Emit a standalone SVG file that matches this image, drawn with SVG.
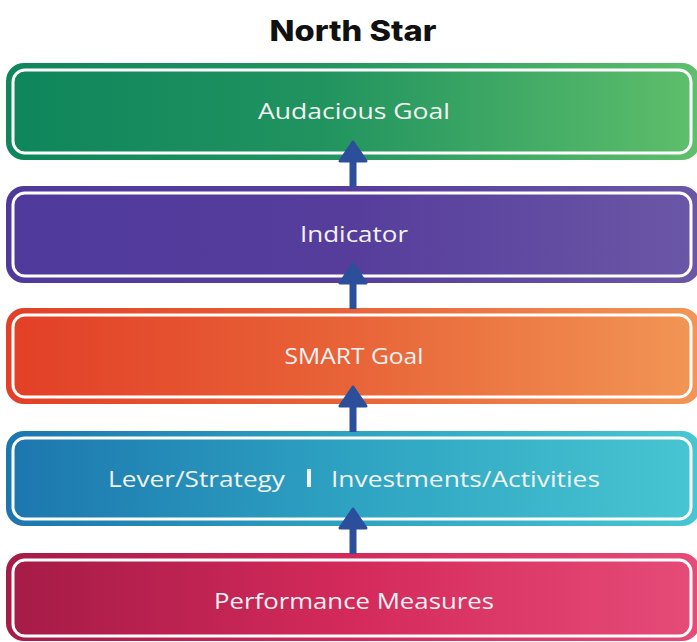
<svg xmlns="http://www.w3.org/2000/svg" width="697" height="642" viewBox="0 0 697 642">
<defs>
<linearGradient id="gGreen" x1="0" y1="0" x2="1" y2="0"><stop offset="0" stop-color="#0f855c"/><stop offset="0.45" stop-color="#20935f"/><stop offset="1" stop-color="#5fbf6b"/></linearGradient>
<linearGradient id="gPurple" x1="0" y1="0" x2="1" y2="0"><stop offset="0" stop-color="#4f3a9c"/><stop offset="0.5" stop-color="#563d9c"/><stop offset="1" stop-color="#6b57a6"/></linearGradient>
<linearGradient id="gOrange" x1="0" y1="0" x2="1" y2="0"><stop offset="0" stop-color="#e23f27"/><stop offset="0.5" stop-color="#e86438"/><stop offset="1" stop-color="#f29655"/></linearGradient>
<linearGradient id="gBlue" x1="0" y1="0" x2="1" y2="0"><stop offset="0" stop-color="#1c76ae"/><stop offset="0.5" stop-color="#2ea3c2"/><stop offset="1" stop-color="#48c6d2"/></linearGradient>
<linearGradient id="gRed" x1="0" y1="0" x2="1" y2="0"><stop offset="0" stop-color="#a51b47"/><stop offset="0.5" stop-color="#d42a5b"/><stop offset="1" stop-color="#e64c79"/></linearGradient>
</defs>
<style>
.title{font-family:"Inter","Liberation Sans",sans-serif;font-weight:800;font-size:28px;fill:#111111}
.lbl{font-family:"Open Sans","Liberation Sans",sans-serif;font-weight:400;font-size:22px;fill:#f2f2f2}
.inner{fill:none;stroke:#ffffff;stroke-width:3}
.arrow{fill:#2c4f9b;stroke:#2c4f9b;stroke-width:3;stroke-linejoin:round}
.shaft{stroke:#2c4f9b;stroke-width:7}
</style>
<rect width="697" height="642" fill="#ffffff"/>
<text class="title" x="353" y="41" text-anchor="middle" textLength="167" lengthAdjust="spacingAndGlyphs">North Star</text>

<g id="audacious-goal">
<rect x="6" y="63" width="694" height="97" rx="18" fill="url(#gGreen)"/>
<rect class="inner" x="13" y="70" width="678" height="83" rx="12"/>
<text class="lbl" x="354" y="119" text-anchor="middle" textLength="192" lengthAdjust="spacingAndGlyphs">Audacious Goal</text>
</g>
<g id="indicator">
<rect x="6" y="186" width="694" height="97" rx="18" fill="url(#gPurple)"/>
<rect class="inner" x="13" y="193" width="678" height="83" rx="12"/>
<text class="lbl" x="354" y="242" text-anchor="middle" textLength="108" lengthAdjust="spacingAndGlyphs">Indicator</text>
</g>
<g id="smart-goal">
<rect x="6" y="308" width="694" height="96" rx="18" fill="url(#gOrange)"/>
<rect class="inner" x="13" y="315" width="678" height="82" rx="12"/>
<text class="lbl" x="354" y="364" text-anchor="middle" textLength="139" lengthAdjust="spacingAndGlyphs">SMART Goal</text>
</g>
<g id="lever-strategy">
<rect x="6" y="431" width="694" height="95" rx="18" fill="url(#gBlue)"/>
<rect class="inner" x="13" y="438" width="678" height="81" rx="12"/>
<text class="lbl" x="108" y="487" textLength="177" lengthAdjust="spacingAndGlyphs">Lever/Strategy</text>
<rect x="307" y="469" width="4" height="18" fill="#f2f2f2"/>
<text class="lbl" x="331" y="487" textLength="269" lengthAdjust="spacingAndGlyphs">Investments/Activities</text>
</g>
<g id="performance-measures">
<rect x="6" y="553" width="694" height="88" rx="18" fill="url(#gRed)"/>
<rect class="inner" x="13" y="560" width="678" height="76" rx="12"/>
<text class="lbl" x="354" y="609" text-anchor="middle" textLength="280" lengthAdjust="spacingAndGlyphs">Performance Measures</text>
</g>

<g id="connectors">
<line class="shaft" x1="353" y1="187" x2="353" y2="155"/>
<polygon class="arrow" points="353,142 340,161 366,161"/>
<line class="shaft" x1="353" y1="309" x2="353" y2="277"/>
<polygon class="arrow" points="353,264 340,283 366,283"/>
<line class="shaft" x1="353" y1="432" x2="353" y2="400"/>
<polygon class="arrow" points="353,387 340,406 366,406"/>
<line class="shaft" x1="353" y1="554" x2="353" y2="522"/>
<polygon class="arrow" points="353,509 340,528 366,528"/>
</g>
</svg>
